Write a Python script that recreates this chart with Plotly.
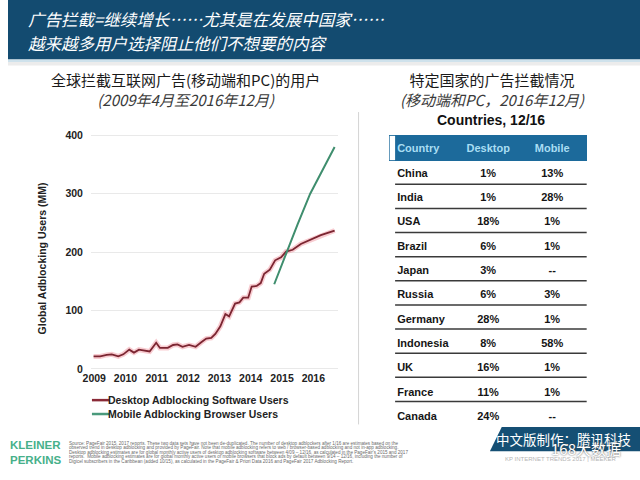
import plotly.graph_objects as go

W, H = 640, 480

# ---- data ----
desktop_x = [2008.98, 2009.19, 2009.40, 2009.56, 2009.77, 2009.93, 2010.12, 2010.27, 2010.43,
             2010.61, 2010.77, 2010.98, 2011.10, 2011.35, 2011.52, 2011.66, 2011.82, 2012.03,
             2012.24, 2012.43, 2012.58, 2012.74, 2012.87, 2013.03, 2013.19, 2013.31, 2013.50,
             2013.64, 2013.76, 2013.92, 2014.03, 2014.19, 2014.32, 2014.43, 2014.61, 2014.78,
             2014.97, 2015.13, 2015.34, 2015.60, 2015.92, 2016.24, 2016.68]
desktop_users = [21.5, 21.5, 24, 25, 21.5, 25, 33, 28, 33, 32, 30, 45, 36, 36, 41, 42, 38, 41,
                 38, 46, 52, 53, 60, 73, 94, 90, 112, 114, 122, 122, 141, 142, 147, 163, 170,
                 186, 191, 201, 204, 214, 221, 229, 237]

mobile_x = [2014.75, 2015.00, 2015.13, 2015.50, 2015.90, 2016.30, 2016.68]
mobile_users = [145, 180, 199, 248, 300, 342, 380]

year_ticks = [2009, 2010, 2011, 2012, 2013, 2014, 2015, 2016]
y_ticks = [0, 100, 200, 300, 400]

countries = ["China", "India", "USA", "Brazil", "Japan", "Russia", "Germany",
             "Indonesia", "UK", "France", "Canada"]
desktop_share = ["1%", "1%", "18%", "6%", "3%", "6%", "28%", "8%", "16%", "11%", "24%"]
mobile_share = ["13%", "28%", "1%", "1%", "--", "3%", "1%", "58%", "1%", "1%", "--"]
table_header = ["Country", "Desktop", "Mobile"]

footnote_lines = [
    "Source: PageFair 2015, 2017 reports. These two data sets have not been de-duplicated. The number of desktop adblockers after 1/16 are estimates based on the",
    "observed trend in desktop adblocking and provided by PageFair. Note that mobile adblocking refers to web / browser-based adblocking and not in-app adblocking.",
    "Desktop adblocking estimates are for global monthly active users of desktop adblocking software between 4/09 \u2013 12/16, as calculated in the PageFair's 2015 and 2017",
    "reports.  Mobile adblocking estimates are for global monthly active users of mobile browsers that block ads by default between 9/14 \u2013 12/16, including the number of",
    "Digicel subscribers in the Caribbean (added 10/15), as calculated in the PageFair & Priori Data 2016 and PageFair 2017 Adblocking Report.",
]

CJK = "Noto Sans CJK SC, Noto Sans CJK TC, sans-serif"
ARIAL = "Liberation Sans, Arial, sans-serif"


def px(x):
    return x / W


def py(y):
    return 1 - y / H


fig = go.Figure()

# desktop line with soft pink halo
fig.add_trace(go.Scatter(x=desktop_x, y=desktop_users, mode="lines",
                         line=dict(color="rgba(236,110,122,0.35)", width=5),
                         hoverinfo="skip", showlegend=False))
fig.add_trace(go.Scatter(x=desktop_x, y=desktop_users, mode="lines",
                         name="Desktop Adblocking Software Users",
                         line=dict(color="#7b2531", width=1.8), showlegend=False))
fig.add_trace(go.Scatter(x=mobile_x, y=mobile_users, mode="lines",
                         name="Mobile Adblocking Browser Users",
                         line=dict(color="#3f8e6e", width=2), showlegend=False))

# country table
fig.add_trace(go.Table(
    domain=dict(x=[px(386), px(586)], y=[py(440), py(137)]),
    columnwidth=[70, 61, 69],
    header=dict(values=table_header, height=24.5, align=["left", "center", "center"],
                fill_color="#1c6a9b", line=dict(color="#1c6a9b", width=1),
                font=dict(family=ARIAL, size=11, color="#a9def3", weight="bold")),
    cells=dict(values=[countries, desktop_share, mobile_share], height=24.33,
               align=["left", "center", "center"], fill_color="white",
               line=dict(color="white", width=1),
               font=dict(family=ARIAL, size=11, color="#151515", weight="bold")),
))

shapes = []
# header band
shapes.append(dict(type="rect", xref="paper", yref="paper", x0=0, x1=1, y0=py(60), y1=1,
                   fillcolor="#134b70", line_width=0, layer="below"))
shapes.append(dict(type="rect", xref="paper", yref="paper", x0=0, x1=1, y0=py(62.5), y1=py(60),
                   fillcolor="#cfe2ec", line_width=0, layer="below"))
shapes.append(dict(type="rect", xref="paper", yref="paper", x0=0, x1=1, y0=py(66), y1=py(62.5),
                   fillcolor="#ececec", line_width=0, layer="below"))
# table header fill reaches the left edge of the row rules
shapes.append(dict(type="rect", xref="paper", yref="paper", x0=px(392), x1=px(386.5),
                   y0=py(161.5), y1=py(137), fillcolor="white", line_width=0))
# divider between panels
shapes.append(dict(type="line", xref="paper", yref="paper", x0=px(355), x1=px(355),
                   y0=py(113), y1=py(428), line=dict(color="#d4d4d4", width=1)))
# row separators in the table
for i in range(len(countries) - 1):
    yy = 137 + 24.5 + 24.33 * (i + 1)
    shapes.append(dict(type="line", xref="paper", yref="paper", x0=px(392), x1=px(586),
                       y0=py(yy), y1=py(yy), line=dict(color="#3a3a3a", width=1.5)))
# legend samples
shapes.append(dict(type="line", xref="paper", yref="paper", x0=px(85), x1=px(103),
                   y0=py(403.5), y1=py(403.5), line=dict(color="#8a2a37", width=2.5)))
shapes.append(dict(type="line", xref="paper", yref="paper", x0=px(85), x1=px(103),
                   y0=py(417.5), y1=py(417.5), line=dict(color="#4a9a7c", width=2.5)))
# credit banner
shapes.append(dict(type="path", xref="paper", yref="paper",
                   path=f"M {px(500)},{py(430.5)} L 1,{py(430.5)} L 1,{py(455)} L {px(488)},{py(455)} Z",
                   fillcolor="#154f74", line_width=0))

ann = []


def text(x, y, s, size, color="#111", family=CJK, anchor="center", **kw):
    ann.append(dict(x=px(x), y=py(y), xref="paper", yref="paper", text=s, showarrow=False,
                    xanchor=anchor, yanchor="middle", align=anchor, borderpad=0, borderwidth=0,
                    font=dict(family=family, size=size, color=color, **kw)))


text(20, 19, "广告拦截=继续增长……尤其是在发展中国家……", 16.5, "white", anchor="left", style="italic")
text(20, 43, "越来越多用户选择阻止他们不想要的内容", 16.5, "white", anchor="left", style="italic")

text(180, 90.5, "全球拦截互联网广告(移动端和PC)的用户<br>"
     "<span style='color:#3a3a3a'><i>(2009年4月至2016年12月)</i></span>", 15, "#1a1a1a")
text(491, 90.5, "特定国家的广告拦截情况<br>"
     "<span style='color:#3a3a3a'><i>(移动端和PC，2016年12月)</i></span>", 15, "#1a1a1a")
text(489, 121.5, "Countries, 12/16", 14, "#111", family=ARIAL, weight="bold")

ann.append(dict(x=px(34), y=py(261), xref="paper", yref="paper", showarrow=False,
                xanchor="center", yanchor="middle", borderpad=0, borderwidth=0,
                text="Global Adblocking Users (MM)", textangle=-90,
                font=dict(family=ARIAL, size=10.5, color="#222", weight="bold")))

text(101, 403.5, "Desktop Adblocking Software Users", 10.5, "#222", family=ARIAL, anchor="left", weight="bold")
text(101, 417.5, "Mobile Adblocking Browser Users", 10.5, "#222", family=ARIAL, anchor="left", weight="bold")

# footer
text(2, 456.5, "KLEINER<br>PERKINS", 11.5, "#47b08a", family="Liberation Sans Narrow, " + ARIAL,
     anchor="left", weight="bold")
for i, line in enumerate(footnote_lines):
    text(62, 447 + 4.5 * i, line, 4.6, "#6a6a6a", family=ARIAL, anchor="left")

text(563, 442.5, "中文版制作：腾讯科技", 13.5, "white")
text(560, 463, "KP INTERNET TRENDS 2017 | MEEKER", 6, "#b5b5b5", family=ARIAL)
text(585, 452, "168大数据", 15, "white", shadow="0px 0px 2px #444")

fig.update_layout(
    width=W, height=H,
    margin=dict(l=0, r=0, t=0, b=0),
    paper_bgcolor="white", plot_bgcolor="white",
    showlegend=False,
    shapes=shapes, annotations=ann,
    xaxis=dict(domain=[px(84), px(334)],
               range=[2009 + (84 - 87.3) / 31.7, 2009 + (334 - 87.3) / 31.7],
               tickvals=year_ticks, showgrid=False, zeroline=False, showline=False,
               tickfont=dict(family=ARIAL, size=10.5, color="#222", weight="bold")),
    yaxis=dict(domain=[py(373.8), py(130)], range=[-3, 411],
               tickvals=y_ticks, gridcolor="#e9e9e9", gridwidth=1, zeroline=False,
               showline=False, ticklabelstandoff=7,
               tickfont=dict(family=ARIAL, size=10.5, color="#222", weight="bold")),
)

# page body has a default 8px margin; drop it so the figure sits at the window corner
fig.write_html("out.html", config={"displayModeBar": False},
               post_script="document.body.style.margin='0px';document.body.style.overflow='hidden';")
